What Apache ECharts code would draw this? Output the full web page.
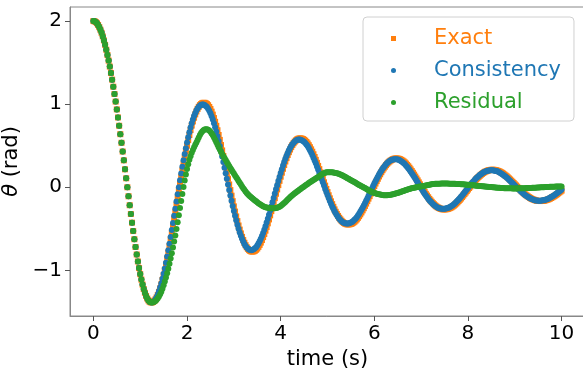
<!DOCTYPE html>
<html>
<head>
  <meta charset="utf-8">
  <script src="https://cdn.jsdelivr.net/npm/echarts@6/dist/echarts.min.js"></script>
</head>
<body style="margin: 0">
  <div id="chart" style="width: 583px; height: 368px"></div>
  <script>
    // theta (rad), one sample every 0.025 s from t = 0 to t = 10 s
    var dt = 0.025;

    // first swing (t = 0 .. 1.275 s), all three curves lie on top of each other here
    var release = [
      2.000, 1.997, 1.988, 1.974, 1.953, 1.927, 1.895, 1.858, 1.815, 1.767,
      1.714, 1.655, 1.592, 1.524, 1.452, 1.375, 1.295, 1.210, 1.122, 1.031,
      0.937, 0.840, 0.740, 0.639, 0.535, 0.430, 0.324, 0.216, 0.108, 0.000,
      -0.108, -0.216, -0.322, -0.426, -0.527, -0.625, -0.719, -0.809, -0.893, -0.972,
      -1.045, -1.111, -1.171, -1.224, -1.269, -1.307, -1.338, -1.361, -1.377, -1.385,
      -1.386, -1.380
    ];

    var exact = release.concat([
      -1.368, -1.350, -1.326, -1.295, -1.258, -1.216, -1.168, -1.115, -1.057, -0.994,
      -0.928, -0.857, -0.784, -0.707, -0.628, -0.547, -0.465, -0.381, -0.296, -0.211,
      -0.126, -0.042, 0.042, 0.124, 0.204, 0.282, 0.358, 0.431, 0.500, 0.567,
      0.629, 0.688, 0.742, 0.792, 0.837, 0.877, 0.912, 0.943, 0.968, 0.988,
      1.002, 1.012, 1.016, 1.016, 1.010,
      1.001, 0.987, 0.966, 0.941, 0.910, 0.874, 0.833, 0.788, 0.739, 0.686,
      0.629, 0.570, 0.508, 0.443, 0.377, 0.310, 0.241, 0.172, 0.103, 0.034,
      -0.034, -0.101, -0.167, -0.230, -0.292, -0.351, -0.407, -0.460, -0.509, -0.555,
      -0.597, -0.635, -0.668, -0.697, -0.722, -0.741, -0.756, -0.767, -0.773, -0.774,
      -0.770,
      -0.763, -0.752, -0.737, -0.717, -0.693, -0.666, -0.635, -0.600, -0.563, -0.522,
      -0.479, -0.434, -0.387, -0.338, -0.287, -0.236, -0.184, -0.131, -0.078, -0.026,
      0.026, 0.077, 0.127, 0.175, 0.222, 0.267, 0.310, 0.350, 0.388, 0.422,
      0.454, 0.483, 0.508, 0.530, 0.549, 0.564, 0.575, 0.583, 0.587, 0.588,
      0.585,
      0.580, 0.571, 0.560, 0.545, 0.527, 0.506, 0.482, 0.456, 0.428, 0.397,
      0.364, 0.330, 0.294, 0.257, 0.218, 0.179, 0.140, 0.100, 0.060, 0.020,
      -0.020, -0.058, -0.096, -0.133, -0.169, -0.203, -0.235, -0.266, -0.295, -0.321,
      -0.345, -0.367, -0.386, -0.403, -0.417, -0.429, -0.437, -0.443, -0.447, -0.447,
      -0.445,
      -0.441, -0.435, -0.426, -0.415, -0.401, -0.386, -0.368, -0.348, -0.326, -0.303,
      -0.278, -0.252, -0.225, -0.196, -0.167, -0.137, -0.107, -0.076, -0.046, -0.015,
      0.015, 0.045, 0.074, 0.102, 0.130, 0.156, 0.181, 0.205, 0.227, 0.247,
      0.266, 0.283, 0.298, 0.311, 0.322, 0.331, 0.338, 0.343, 0.346, 0.346,
      0.345,
      0.342, 0.337, 0.330, 0.321, 0.311, 0.299, 0.285, 0.269, 0.253, 0.235,
      0.215, 0.195, 0.174, 0.152, 0.129, 0.106, 0.083, 0.059, 0.035, 0.012,
      -0.012, -0.035, -0.057, -0.079, -0.100, -0.120, -0.140, -0.158, -0.175, -0.191,
      -0.205, -0.218, -0.230, -0.240, -0.248, -0.255, -0.260, -0.264, -0.266, -0.266,
      -0.265,
      -0.263, -0.259, -0.254, -0.248, -0.240, -0.230, -0.220, -0.208, -0.195, -0.181,
      -0.166, -0.151, -0.135, -0.118, -0.100, -0.082, -0.064, -0.046, -0.027, -0.009,
      0.009, 0.027, 0.045, 0.062, 0.078, 0.094, 0.109, 0.124, 0.137, 0.150,
      0.161, 0.171, 0.181, 0.189, 0.195, 0.201, 0.205, 0.208, 0.210, 0.211,
      0.210,
      0.208, 0.205, 0.201, 0.196, 0.190, 0.182, 0.174, 0.165, 0.154, 0.143,
      0.132, 0.119, 0.106, 0.093, 0.079, 0.065, 0.051, 0.036, 0.022, 0.007,
      -0.007, -0.021, -0.035, -0.049, -0.062, -0.074, -0.086, -0.097, -0.108, -0.118,
      -0.127, -0.135, -0.142, -0.148, -0.154, -0.158, -0.162, -0.164, -0.165, -0.166,
      -0.165,
      -0.164, -0.161, -0.158, -0.154, -0.149, -0.143, -0.137, -0.129, -0.121, -0.113,
      -0.104, -0.094, -0.084, -0.073, -0.062, -0.051, -0.040
    ]);

    var consistency = release.concat([
      -1.368, -1.348, -1.322, -1.290, -1.251, -1.207, -1.157, -1.101, -1.041, -0.976,
      -0.907, -0.834, -0.758, -0.679, -0.598, -0.514, -0.430, -0.344, -0.258, -0.171,
      -0.085, 0.000, 0.084, 0.166, 0.246, 0.324, 0.399, 0.470, 0.538, 0.602,
      0.662, 0.718, 0.769, 0.815, 0.856, 0.892, 0.923, 0.949, 0.969, 0.984,
      0.993, 0.997, 0.996, 0.990,
      0.979, 0.965, 0.945, 0.920, 0.890, 0.855, 0.815, 0.771, 0.723, 0.671,
      0.615, 0.557, 0.497, 0.433, 0.369, 0.303, 0.236, 0.168, 0.101, 0.033,
      -0.033, -0.099, -0.163, -0.225, -0.286, -0.343, -0.398, -0.450, -0.498, -0.543,
      -0.584, -0.621, -0.653, -0.682, -0.706, -0.725, -0.739, -0.750, -0.756, -0.757,
      -0.753,
      -0.746, -0.735, -0.721, -0.701, -0.678, -0.651, -0.621, -0.587, -0.551, -0.511,
      -0.468, -0.424, -0.378, -0.331, -0.281, -0.231, -0.180, -0.128, -0.076, -0.025,
      0.025, 0.075, 0.124, 0.171, 0.217, 0.261, 0.303, 0.342, 0.379, 0.413,
      0.444, 0.472, 0.497, 0.518, 0.537, 0.552, 0.562, 0.570, 0.574, 0.575,
      0.572,
      0.567, 0.558, 0.548, 0.533, 0.515, 0.495, 0.471, 0.446, 0.419, 0.388,
      0.356, 0.323, 0.288, 0.251, 0.213, 0.175, 0.137, 0.098, 0.059, 0.020,
      -0.020, -0.057, -0.094, -0.130, -0.165, -0.199, -0.230, -0.260, -0.289, -0.314,
      -0.337, -0.359, -0.378, -0.394, -0.408, -0.420, -0.427, -0.433, -0.437, -0.437,
      -0.435,
      -0.431, -0.425, -0.417, -0.406, -0.392, -0.378, -0.360, -0.340, -0.319, -0.296,
      -0.272, -0.246, -0.220, -0.192, -0.163, -0.134, -0.105, -0.074, -0.045, -0.015,
      0.015, 0.044, 0.072, 0.100, 0.127, 0.153, 0.177, 0.200, 0.222, 0.242,
      0.260, 0.277, 0.291, 0.304, 0.315, 0.324, 0.331, 0.335, 0.338, 0.338,
      0.337,
      0.334, 0.330, 0.323, 0.314, 0.304, 0.292, 0.279, 0.263, 0.247, 0.230,
      0.210, 0.191, 0.170, 0.149, 0.126, 0.104, 0.081, 0.058, 0.034, 0.012,
      -0.012, -0.034, -0.056, -0.077, -0.098, -0.117, -0.137, -0.155, -0.171, -0.187,
      -0.200, -0.213, -0.225, -0.235, -0.243, -0.249, -0.254, -0.258, -0.260, -0.260,
      -0.259,
      -0.257, -0.253, -0.248, -0.243, -0.235, -0.225, -0.215, -0.203, -0.191, -0.177,
      -0.162, -0.148, -0.132, -0.115, -0.098, -0.080, -0.063, -0.045, -0.026, -0.009,
      0.009, 0.026, 0.044, 0.061, 0.076, 0.092, 0.107, 0.121, 0.134, 0.147,
      0.157, 0.167, 0.177, 0.185, 0.191, 0.197, 0.200, 0.203, 0.205, 0.206,
      0.205,
      0.203, 0.200, 0.197, 0.192, 0.186, 0.178, 0.170, 0.161, 0.151, 0.140,
      0.129, 0.116, 0.104, 0.091, 0.077, 0.064, 0.050, 0.035, 0.022, 0.007,
      -0.007, -0.021, -0.034, -0.048, -0.061, -0.072, -0.084, -0.095, -0.106, -0.115,
      -0.124, -0.132, -0.139, -0.145, -0.151, -0.155, -0.158, -0.160, -0.161, -0.162,
      -0.161,
      -0.160, -0.157, -0.155, -0.151, -0.146, -0.140, -0.134, -0.126, -0.118, -0.111,
      -0.102, -0.092, -0.082, -0.071, -0.061, -0.050, -0.039, -0.027
    ]);

    var residual = release.slice(0, 51).concat([
      -1.383, -1.377, -1.368, -1.354, -1.336, -1.314, -1.288, -1.256, -1.221, -1.180,
      -1.135, -1.087, -1.034, -0.979, -0.920, -0.858, -0.793, -0.725, -0.654, -0.580,
      -0.502, -0.421, -0.336, -0.250, -0.164, -0.080, 0.003, 0.081, 0.154, 0.220,
      0.278, 0.330, 0.374, 0.414, 0.449, 0.481, 0.511, 0.540, 0.570, 0.600,
      0.629, 0.653, 0.672, 0.686, 0.695, 0.699, 0.699, 0.693, 0.683, 0.668,
      0.648, 0.625, 0.599, 0.571, 0.542, 0.512, 0.482, 0.453, 0.425, 0.400,
      0.376, 0.352, 0.328, 0.304, 0.280, 0.257, 0.233, 0.210, 0.187, 0.165,
      0.143, 0.120, 0.098, 0.076, 0.053, 0.032, 0.010, -0.011, -0.031, -0.050,
      -0.068, -0.084, -0.099, -0.112, -0.124, -0.136, -0.147, -0.158, -0.169, -0.180,
      -0.191, -0.201, -0.210, -0.219, -0.227, -0.233, -0.239, -0.244, -0.247, -0.250,
      -0.252, -0.253, -0.254, -0.254, -0.253, -0.250, -0.246, -0.241, -0.234, -0.225,
      -0.214, -0.202, -0.190, -0.176, -0.162, -0.148, -0.134, -0.120, -0.107, -0.095,
      -0.084, -0.073, -0.062, -0.051, -0.041, -0.030, -0.020, -0.010, 0.000, 0.010,
      0.020, 0.030, 0.040, 0.050, 0.060, 0.070, 0.079, 0.088, 0.097, 0.105,
      0.114, 0.123, 0.133, 0.143, 0.153, 0.162, 0.169, 0.176, 0.180, 0.182,
      0.182, 0.182, 0.181, 0.180, 0.178, 0.175, 0.172, 0.169, 0.165, 0.160,
      0.155, 0.148, 0.141, 0.134, 0.126, 0.117, 0.109, 0.101, 0.093, 0.085,
      0.078, 0.070, 0.062, 0.053, 0.045, 0.037, 0.028, 0.020, 0.012, 0.005,
      -0.002, -0.010, -0.019, -0.027, -0.035, -0.043, -0.050, -0.057, -0.063, -0.068,
      -0.072, -0.077, -0.081, -0.084, -0.088, -0.090, -0.093, -0.095, -0.096, -0.096,
      -0.096, -0.094, -0.092, -0.090, -0.087, -0.084, -0.080, -0.076, -0.072, -0.068,
      -0.064, -0.059, -0.054, -0.049, -0.044, -0.039, -0.034, -0.029, -0.024, -0.020,
      -0.016, -0.012, -0.009, -0.006, -0.003, 0.000, 0.003, 0.005, 0.008, 0.010,
      0.013, 0.016, 0.019, 0.022, 0.025, 0.028, 0.031, 0.034, 0.036, 0.038,
      0.039, 0.041, 0.042, 0.042, 0.043, 0.043, 0.044, 0.044, 0.044, 0.044,
      0.044, 0.044, 0.044, 0.043, 0.043, 0.042, 0.042, 0.041, 0.041, 0.040,
      0.039, 0.038, 0.038, 0.037, 0.036, 0.035, 0.034, 0.032, 0.031, 0.030,
      0.029, 0.027, 0.026, 0.024, 0.023, 0.021, 0.019, 0.018, 0.016, 0.015,
      0.014, 0.012, 0.011, 0.009, 0.008, 0.007, 0.005, 0.004, 0.003, 0.002,
      0.001, 0.000, -0.002, -0.003, -0.005, -0.006, -0.007, -0.008, -0.009, -0.010,
      -0.011, -0.011, -0.012, -0.012, -0.013, -0.013, -0.013, -0.014, -0.014, -0.014,
      -0.014, -0.014, -0.013, -0.013, -0.013, -0.012, -0.012, -0.011, -0.011, -0.010,
      -0.009, -0.009, -0.008, -0.008, -0.007, -0.006, -0.005, -0.005, -0.004, -0.003,
      -0.002, -0.001, -0.001, 0.000, 0.001, 0.002, 0.003, 0.004, 0.004, 0.005,
      0.006, 0.006, 0.007, 0.007, 0.008, 0.008, 0.009, 0.009, 0.010, 0.010
    ]);

    var xTicks = [0, 2, 4, 6, 8, 10];
    var yTicks = [-1, 0, 1, 2];

    // [time, theta] pairs for the scatter series
    function toPoints(values) {
      return values.map(function (v, i) { return [+(i * dt).toFixed(3), v]; });
    }

    // matplotlib style minus sign
    function tickText(v) {
      return String(v).replace('-', '\u2212');
    }

    var font = 'DejaVu Sans';
    var myChart = echarts.init(document.getElementById('chart'), null, { renderer: 'canvas' });

    var option = {
      animation: false,
      grid: {
        left: 70, top: 7, width: 515, height: 309,
        outerBoundsMode: 'none',
        containLabel: false,
        show: true, borderColor: '#888', borderWidth: 1
      },
      legend: {
        orient: 'vertical',
        left: 363, top: 17,
        padding: [11, 13, 8, 28],
        itemGap: 11,
        itemWidth: 5, itemHeight: 5,
        backgroundColor: 'rgba(255,255,255,0.8)',
        borderColor: '#d0d0d0', borderWidth: 1, borderRadius: 4,
        selectedMode: false,
        textStyle: { fontFamily: font, fontSize: 21, padding: [0, 0, 0, 33] },
        data: [
          { name: 'Exact', icon: 'rect', textStyle: { color: '#ff7f0e' } },
          { name: 'Consistency', icon: 'circle', textStyle: { color: '#1f77b4' } },
          { name: 'Residual', icon: 'circle', textStyle: { color: '#2ca02c' } }
        ]
      },
      xAxis: {
        type: 'value', min: -0.5, max: 10.5,
        name: 'time (s)', nameLocation: 'middle', nameGap: 27,
        nameTextStyle: { fontFamily: font, fontSize: 21, color: '#000' },
        axisLine: { onZero: false, lineStyle: { color: '#888' } },
        axisTick: { customValues: xTicks, length: 5, lineStyle: { color: '#555' } },
        axisLabel: { customValues: xTicks, formatter: tickText, fontFamily: font, fontSize: 20, color: '#000', margin: 8 },
        splitLine: { show: false }
      },
      yAxis: {
        type: 'value', min: -1.549, max: 2.169,
        name: '{i|θ} (rad)', nameLocation: 'middle', nameGap: 42,
        nameTextStyle: {
          fontFamily: font, fontSize: 21, color: '#000',
          rich: { i: { fontFamily: font, fontSize: 21, fontStyle: 'italic', color: '#000' } }
        },
        axisLine: { show: true, onZero: false, lineStyle: { color: '#888' } },
        axisTick: { show: true, customValues: yTicks, length: 5, lineStyle: { color: '#555' } },
        axisLabel: { customValues: yTicks, formatter: tickText, fontFamily: font, fontSize: 20, color: '#000', margin: 8 },
        splitLine: { show: false }
      },
      series: [
        {
          name: 'Exact', type: 'scatter', symbol: 'rect', symbolSize: 6,
          itemStyle: { color: '#ff7f0e', opacity: 1 },
          silent: true, data: toPoints(exact)
        },
        {
          name: 'Consistency', type: 'scatter', symbol: 'circle', symbolSize: 6,
          itemStyle: { color: '#1f77b4', opacity: 1 },
          silent: true, data: toPoints(consistency)
        },
        {
          name: 'Residual', type: 'scatter', symbol: 'circle', symbolSize: 6,
          itemStyle: { color: '#2ca02c', opacity: 1 },
          silent: true, data: toPoints(residual)
        }
      ]
    };

    myChart.setOption(option);
    window.addEventListener('resize', myChart.resize);
  </script>
</body>
</html>
